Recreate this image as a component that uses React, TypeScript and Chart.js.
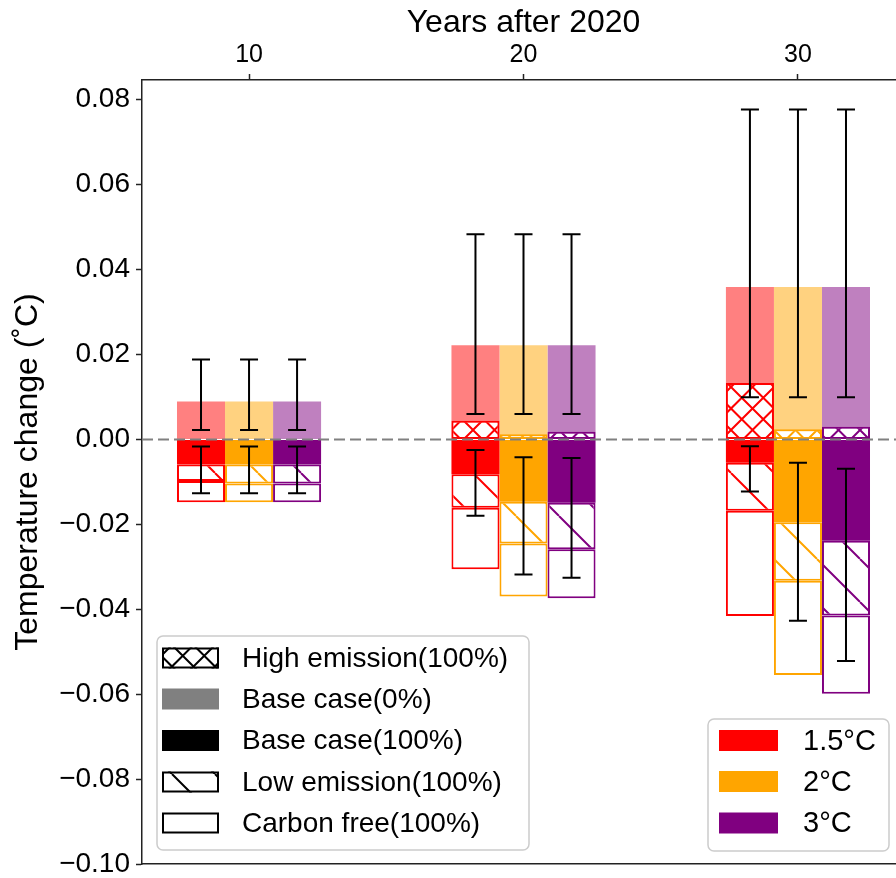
import React, { useEffect, useRef } from 'react';
import { Chart, registerables } from 'chart.js';

Chart.register(...registerables);

const FONT = "'Liberation Sans', Arial, Helvetica, sans-serif";

// ---------- data ----------
const yearLabels = ['10', '20', '30'];
const xPositions = [0, 1, 2];
const scenarioLabels = ['1.5°C', '2°C', '3°C'];
const yTicks = [-0.1, -0.08, -0.06, -0.04, -0.02, 0, 0.02, 0.04, 0.06, 0.08];

// rows: 1.5°C, 2°C, 3°C ; columns: 10, 20, 30 years
const baseCase0Top = [
  [0.0089, 0.0222, 0.0359],
  [0.0089, 0.0222, 0.0359],
  [0.0089, 0.0222, 0.0359],
];
const highEmissionTop = [
  [null, 0.0044, 0.0133],
  [null, 0.0012, 0.0024],
  [null, 0.0018, 0.003],
];
const baseCase100Bottom = [
  [-0.0059, -0.0082, -0.0055],
  [-0.0059, -0.0147, -0.0195],
  [-0.0059, -0.0149, -0.0239],
];
const lowEmissionBottom = [
  [-0.0098, -0.0161, -0.0168],
  [-0.0104, -0.0245, -0.0333],
  [-0.0104, -0.0259, -0.0415],
];
const carbonFreeBottom = [
  [-0.0148, -0.0306, -0.0416],
  [-0.0148, -0.037, -0.0555],
  [-0.0148, -0.0374, -0.0599],
];
// error bars
const upperErrLow = [0.0022, 0.006, 0.0099];
const upperErrHigh = [0.0188, 0.0483, 0.0777];
const lowerErrTop = [
  [-0.0017, -0.0025, -0.0016],
  [-0.0017, -0.0042, -0.0055],
  [-0.0017, -0.0044, -0.0069],
];
const lowerErrBottom = [
  [-0.0127, -0.018, -0.0123],
  [-0.0127, -0.0318, -0.0427],
  [-0.0127, -0.0326, -0.0522],
];

const legendLabels = [
  'High emission(100%)',
  'Base case(0%)',
  'Base case(100%)',
  'Low emission(100%)',
  'Carbon free(100%)',
];

// ---------- style ----------
const scenarioColors = ['#ff0000', '#ffa500', '#800080'];
const scenarioLight = ['#ff8080', '#ffd280', '#bf80bf'];
const AXIS = '#222222';

function makePattern(ctx: CanvasRenderingContext2D, color: string, kind: 'diag' | 'cross') {
  const size = 43;
  const c = document.createElement('canvas');
  c.width = size;
  c.height = size;
  const g = c.getContext('2d')!;
  g.fillStyle = '#ffffff';
  g.fillRect(0, 0, size, size);
  g.strokeStyle = color;
  g.lineWidth = 2;
  g.beginPath();
  if (kind === 'diag') {
    for (const o of [-size, 0, size]) {
      g.moveTo(o, 0);
      g.lineTo(o + size, size);
    }
  } else {
    const step = size / 2;
    for (let o = -size; o <= size + 0.1; o += step) {
      g.moveTo(o, 0);
      g.lineTo(o + size, size);
      g.moveTo(o, size);
      g.lineTo(o + size, 0);
    }
  }
  g.stroke();
  return ctx.createPattern(c, 'repeat') as CanvasPattern;
}

function roundRect(ctx: CanvasRenderingContext2D, x: number, y: number, w: number, h: number, r: number) {
  ctx.beginPath();
  ctx.moveTo(x + r, y);
  ctx.arcTo(x + w, y, x + w, y + h, r);
  ctx.arcTo(x + w, y + h, x, y + h, r);
  ctx.arcTo(x, y + h, x, y, r);
  ctx.arcTo(x, y, x + w, y, r);
  ctx.closePath();
}

export default function App() {
  const ref = useRef<HTMLCanvasElement>(null);

  useEffect(() => {
    const canvas = ref.current!;
    const ctx = canvas.getContext('2d')!;

    const datasets: any[] = [];
    const base0Idx: number[] = [];

    const comps = [
      { key: 'free', order: 1 },
      { key: 'low', order: 2 },
      { key: 'base100', order: 3 },
      { key: 'high', order: 4 },
      { key: 'base0', order: 5 },
    ];

    comps.forEach((comp) => {
      scenarioLabels.forEach((lab, s) => {
        const color = scenarioColors[s];
        const pts: any[] = [];
        xPositions.forEach((x, j) => {
          let lo: number | null = null;
          let hi: number | null = null;
          if (comp.key === 'free') { lo = carbonFreeBottom[s][j]; hi = lowEmissionBottom[s][j]; }
          if (comp.key === 'low') { lo = lowEmissionBottom[s][j]; hi = baseCase100Bottom[s][j]; }
          if (comp.key === 'base100') { lo = baseCase100Bottom[s][j]; hi = 0; }
          if (comp.key === 'high') { lo = 0; hi = highEmissionTop[s][j]; }
          if (comp.key === 'base0') { lo = 0; hi = baseCase0Top[s][j]; }
          if (lo !== null && hi !== null) pts.push({ x, y: [lo, hi] });
        });
        let bg: any = color;
        let bw = 2;
        if (comp.key === 'free') bg = '#ffffff';
        if (comp.key === 'low') bg = makePattern(ctx, color, 'diag');
        if (comp.key === 'high') bg = makePattern(ctx, color, 'cross');
        if (comp.key === 'base100') bw = 0;
        if (comp.key === 'base0') { bg = scenarioLight[s]; bw = 0; }
        if (comp.key === 'base0') base0Idx[s] = datasets.length;
        datasets.push({
          label: comp.key + ' ' + lab,
          data: pts,
          stack: 's' + s,
          order: comp.order,
          xAxisID: 'x',
          yAxisID: 'y',
          backgroundColor: bg,
          borderColor: color,
          borderWidth: bw,
          borderSkipped: false,
          categoryPercentage: 0.525,
          barPercentage: 1,
        });
      });
    });

    const overlay = {
      id: 'overlay',
      afterDatasetsDraw(chart: any) {
        const c = chart.ctx as CanvasRenderingContext2D;
        const area = chart.chartArea;
        const ys = chart.scales.y;
        c.save();
        c.beginPath();
        c.rect(area.left, area.top, area.right - area.left, area.bottom - area.top);
        c.clip();
        // zero line
        const y0 = ys.getPixelForValue(0);
        c.strokeStyle = '#808080';
        c.lineWidth = 2;
        c.setLineDash([11, 5]);
        c.beginPath();
        c.moveTo(area.left, y0);
        c.lineTo(area.right, y0);
        c.stroke();
        c.setLineDash([]);
        // error bars
        c.strokeStyle = '#000000';
        c.lineWidth = 2;
        const cap = 9;
        scenarioLabels.forEach((_, s) => {
          const meta = chart.getDatasetMeta(base0Idx[s]);
          xPositions.forEach((_x, j) => {
            const el = meta.data[j];
            if (!el) return;
            const x = el.x;
            const segs = [
              [upperErrLow[j], upperErrHigh[j]],
              [lowerErrTop[s][j], lowerErrBottom[s][j]],
            ];
            segs.forEach(([a, b]) => {
              const ya = ys.getPixelForValue(a);
              const yb = ys.getPixelForValue(b);
              c.beginPath();
              c.moveTo(x, ya);
              c.lineTo(x, yb);
              c.moveTo(x - cap, ya);
              c.lineTo(x + cap, ya);
              c.moveTo(x - cap, yb);
              c.lineTo(x + cap, yb);
              c.stroke();
            });
          });
        });
        c.restore();
      },
      afterDraw(chart: any) {
        const c = chart.ctx as CanvasRenderingContext2D;
        c.save();
        // legend 1
        roundRect(c, 157, 636, 372, 214, 6);
        c.fillStyle = 'rgba(255,255,255,0.8)';
        c.fill();
        c.strokeStyle = '#cccccc';
        c.lineWidth = 1.5;
        c.stroke();
        const rows1 = [658, 699, 740.5, 782, 823];
        const crossK = makePattern(c, '#000000', 'cross');
        const diagK = makePattern(c, '#000000', 'diag');
        c.font = `28px ${FONT}`;
        c.textBaseline = 'middle';
        c.textAlign = 'left';
        rows1.forEach((cy, i) => {
          const px = 162, pw = 57, ph = 21, py = cy - ph / 2;
          if (i === 0) { c.fillStyle = crossK; c.fillRect(px, py, pw, ph); }
          if (i === 1) { c.fillStyle = '#808080'; c.fillRect(px, py, pw, ph); }
          if (i === 2) { c.fillStyle = '#000000'; c.fillRect(px, py, pw, ph); }
          if (i === 3) { c.fillStyle = diagK; c.fillRect(px, py, pw, ph); }
          if (i === 4) { c.fillStyle = '#ffffff'; c.fillRect(px, py, pw, ph); }
          if (i !== 1 && i !== 2) {
            c.strokeStyle = '#000000';
            c.lineWidth = 2;
            c.strokeRect(px + 1, py + 1, pw - 2, ph - 2);
          }
          c.fillStyle = '#000000';
          c.fillText(legendLabels[i], 242, cy + 1);
        });
        // legend 2
        roundRect(c, 708, 719, 181, 132, 6);
        c.fillStyle = 'rgba(255,255,255,0.8)';
        c.fill();
        c.strokeStyle = '#cccccc';
        c.lineWidth = 1.5;
        c.stroke();
        const rows2 = [740.5, 781.5, 823];
        c.font = `29px ${FONT}`;
        rows2.forEach((cy, s) => {
          c.fillStyle = scenarioColors[s];
          c.fillRect(719, cy - 10.5, 59, 21);
          c.fillStyle = '#000000';
          c.fillText(scenarioLabels[s], 803, cy + 1);
        });
        c.restore();
      },
    };

    const chart = new Chart(canvas, {
      type: 'bar',
      data: { datasets },
      options: {
        animation: false,
        responsive: false,
        devicePixelRatio: 1,
        events: [],
        layout: { autoPadding: false, padding: { left: 0, right: 15, top: 0, bottom: 0 } },
        plugins: {
          legend: { display: false },
          tooltip: { enabled: false },
          title: { display: false },
        },
        scales: {
          x: {
            type: 'linear',
            position: 'top',
            min: -0.39,
            max: 2.39,
            stacked: true,
            offset: false,
            afterBuildTicks: (s: any) => {
              s.ticks = xPositions.map((v) => ({ value: v }));
            },
            afterFit: (s: any) => {
              s.height = 80;
              s.paddingLeft = 0;
              s.paddingRight = 0;
            },
            ticks: {
              callback: (v: any) => yearLabels[Math.round(Number(v))],
              font: { size: 25, family: FONT },
              color: '#000000',
              padding: 4,
              maxRotation: 0,
              autoSkip: false,
            },
            grid: { offset: false, drawOnChartArea: false, drawTicks: true, tickLength: 6, color: AXIS, tickWidth: 1.5 },
            border: { display: true, color: AXIS, width: 1.5 },
            title: {
              display: true,
              text: 'Years after 2020',
              font: { size: 32, family: FONT },
              color: '#000000',
              padding: { top: 4, bottom: 0 },
            },
          },
          x2: {
            type: 'linear',
            position: 'bottom',
            min: -0.39,
            max: 2.39,
            ticks: { display: false },
            grid: { display: false, offset: false, drawOnChartArea: false, drawTicks: false },
            border: { display: true, color: AXIS, width: 1.5 },
            afterFit: (s: any) => {
              s.height = 14;
              s.paddingLeft = 0;
              s.paddingRight = 0;
            },
          },
          y: {
            type: 'linear',
            min: -0.1,
            max: 0.08464,
            stacked: false,
            afterBuildTicks: (s: any) => {
              s.ticks = yTicks.map((v) => ({ value: v }));
            },
            afterFit: (s: any) => {
              s.width = 142;
              s.paddingTop = 0;
              s.paddingBottom = 0;
            },
            ticks: {
              callback: (v: any) => Number(v).toFixed(2).replace('-', '\u2212'),
              font: { size: 28, family: FONT },
              color: '#000000',
              padding: 6,
              autoSkip: false,
            },
            grid: { drawOnChartArea: false, drawTicks: true, tickLength: 6, color: AXIS, tickWidth: 1.5 },
            border: { display: true, color: AXIS, width: 1.5 },
            title: {
              display: true,
              text: 'Temperature change (˚C)',
              font: { size: 32, family: FONT },
              color: '#000000',
              padding: { top: 9, bottom: 0 },
            },
          },
        },
      } as any,
      plugins: [overlay],
    });

    return () => chart.destroy();
  }, []);

  return (
    <div
      style={{
        position: 'fixed',
        left: 0,
        top: 0,
        width: 896,
        height: 878,
        overflow: 'hidden',
        background: '#ffffff',
      }}
    >
      <canvas ref={ref} width={920} height={878} style={{ display: 'block', width: 920, height: 878 }} />
    </div>
  );
}
